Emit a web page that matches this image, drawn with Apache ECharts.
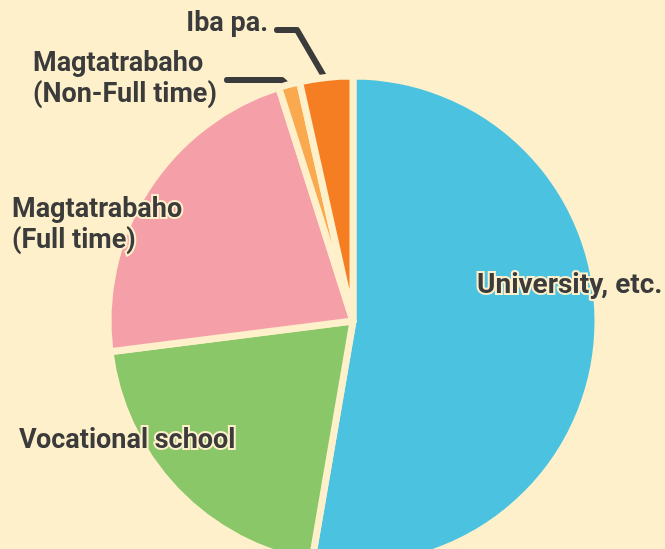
<!DOCTYPE html>
<html>
<head>
<meta charset="utf-8">
<style>
html,body{margin:0;padding:0;background:#FDF0CA;}
#chart{width:665px;height:549px;}
</style>
<script src="https://cdn.jsdelivr.net/npm/echarts@6/dist/echarts.min.js"></script>
</head>
<body>
<div id="chart"></div>
<script>
const categories = ['University, etc.', 'Vocational school', 'Magtatrabaho\n(Full time)', 'Magtatrabaho\n(Non-Full time)', 'Iba pa.'];
const values = [52.7, 20.3, 22.1, 1.4, 3.5];
const colors = ['#4BC3E0', '#89C768', '#F5A0A8', '#FBA94E', '#F67E22'];

const BG = '#FDF0CA';
const TEXT = '#3B3B3B';

// label placement (annotation positions, not data)
const labelPos = [
  {x: 477, y: 286, align: 'left', size: 28},
  {x: 19, y: 441, align: 'left', size: 27},
  {x: 12, y: 226, align: 'left', size: 27},
  {x: 33, y: 80, align: 'left', size: 27},
  {x: 268, y: 24, align: 'right', size: 27}
];
const guides = {
  3: [[296, 93], [282, 80], [227, 80]],
  4: [[332, 90], [297, 30], [277, 30]]
};

const chart = echarts.init(document.getElementById('chart'), null, {renderer: 'canvas'});
chart.setOption({
  backgroundColor: BG,
  animation: false,
  series: [{
    type: 'pie',
    center: [353, 321],
    radius: [0, 245],
    startAngle: 90,
    clockwise: true,
    avoidLabelOverlap: false,
    data: categories.map((name, i) => ({
      name: name,
      value: values[i],
      itemStyle: {color: colors[i]},
      label: {fontSize: labelPos[i].size},
      labelLine: {show: !!guides[i]}
    })),
    itemStyle: {borderColor: BG, borderWidth: 7},
    label: {
      show: true,
      position: 'outside',
      formatter: '{b}',
      color: TEXT,
      fontFamily: 'Roboto',
      fontWeight: 'bold',
      fontSize: 27,
      lineHeight: 31,
      textBorderColor: BG,
      textBorderWidth: 4
    },
    labelLine: {
      show: true,
      lineStyle: {color: TEXT, width: 6, cap: 'round', join: 'round'}
    },
    labelLayout: function (params) {
      const p = labelPos[params.dataIndex];
      const res = {x: p.x, y: p.y, align: p.align, verticalAlign: 'middle'};
      if (guides[params.dataIndex]) res.labelLinePoints = guides[params.dataIndex];
      return res;
    },
    emphasis: {disabled: true}
  }]
});
</script>
</body>
</html>
